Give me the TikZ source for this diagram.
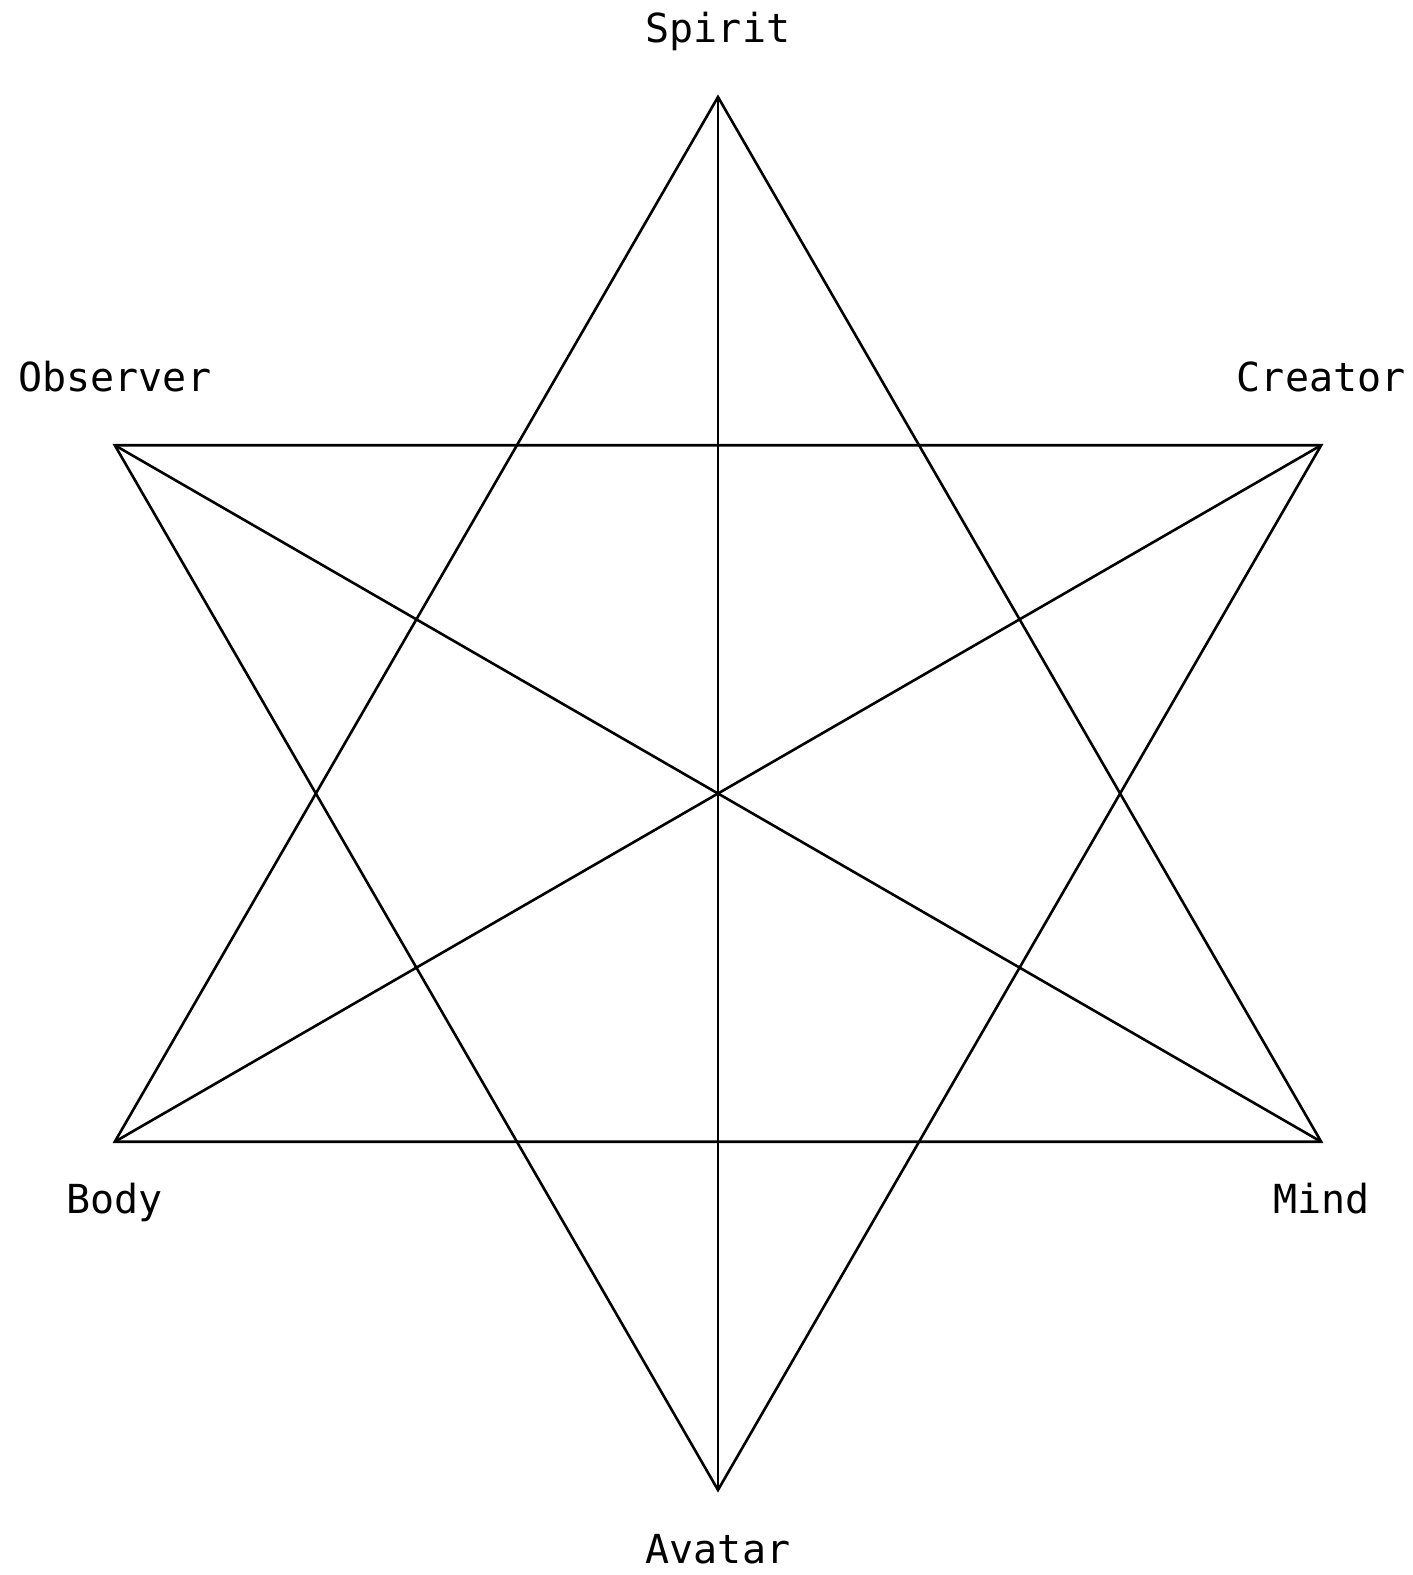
\documentclass[tikz,border=0pt]{standalone}
\usepackage{fontspec}
\setmonofont{DejaVu Sans Mono}
\begin{document}
\begin{tikzpicture}[x=0.5pt, y=0.5pt, line width=1.3pt, every node/.style={font=\ttfamily\fontsize{20}{24}\selectfont}]
				% 1. 画布范围 (锁定原图比例与留白)
				\useasboundingbox (-718,-781.5) rectangle (695,793.5);
				
				% 2. 六个顶点
				\coordinate (spirit)   at (90:696.5);
				\coordinate (creator)  at (30:696.5);
				\coordinate (mind)     at (-30:696.5);
				\coordinate (avatar)   at (-90:696.5);
				\coordinate (body)     at (-150:696.5);
				\coordinate (observer) at (150:696.5);
				
				% 3. 两个大三角形
				\draw (spirit) -- (body) -- (mind) -- cycle;
				\draw (avatar) -- (observer) -- (creator) -- cycle;
				
				% 4. 三条对角线 (过中心)
				\draw (spirit) -- (avatar);
				\draw (observer) -- (mind);
				\draw (creator) -- (body);
				
				% 5. 顶点标签 (基线对齐)
				\node[anchor=base] (spiritlbl)   at ([yshift=54*0.5pt]spirit)   {Spirit};
				\node[anchor=base] (observerlbl) at ([yshift=54*0.5pt]observer) {Observer};
				\node[anchor=base] (creatorlbl)  at ([yshift=54*0.5pt]creator)  {Creator};
				\node[anchor=base] (bodylbl)     at ([yshift=-72*0.5pt]body)    {Body};
				\node[anchor=base] (mindlbl)     at ([yshift=-72*0.5pt]mind)    {Mind};
				\node[anchor=base] (avatarlbl)   at ([yshift=-73*0.5pt]avatar)  {Avatar};
			\end{tikzpicture}
\end{document}
